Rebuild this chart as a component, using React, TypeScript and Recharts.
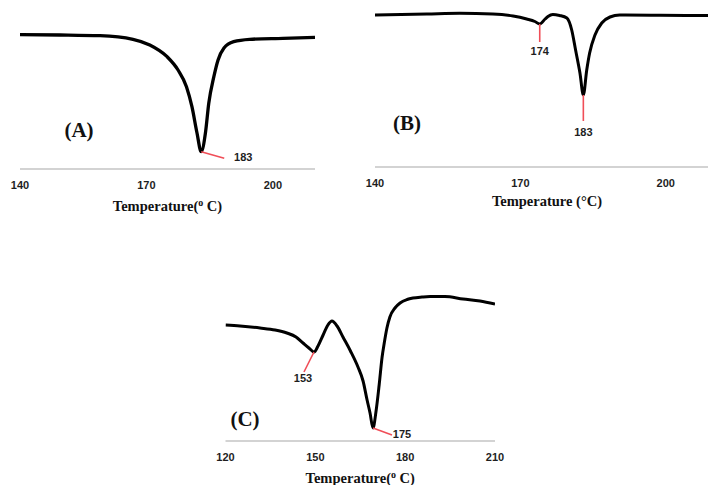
import React from 'react';
import { LineChart, Line, XAxis, YAxis } from 'recharts';

// DSC thermograms: temperature (°C) vs. heat flow (arbitrary units, endo down)
const A_TEMP = [140, 149.5, 159, 166.8, 170.8, 174.9, 177.5, 179.5, 180.8, 182, 183, 184, 184.8, 186, 187, 188.4, 190.7, 194.5, 202.4, 210];
const A_HEAT = [13.43, 13.4, 13.33, 12.97, 12.4, 11.23, 9.9, 8.23, 6.23, 3.6, 1.73, 3.6, 6.6, 9.23, 10.9, 12.1, 12.73, 12.97, 13.07, 13.17];
const A_PEAKS = [183];

const B_TEMP = [140, 150.7, 157.5, 164.3, 168.5, 171.3, 173, 174, 175.1, 175.7, 176.7, 178.1, 179.6, 180.6, 181.4, 182.3, 183, 183.7, 184.3, 185.4, 186.8, 188.5, 190.5, 198.8, 211];
const B_HEAT = [15.2, 15.3, 15.37, 15.3, 15.1, 14.8, 14.55, 14.3, 14.8, 15.05, 15.25, 15.15, 14.9, 13.7, 11.7, 9.4, 7.2, 9.7, 11.4, 13.2, 14.4, 15.0, 15.2, 15.17, 15.15];
const B_PEAKS = [174, 183];

const C_TEMP = [120, 125.4, 132.9, 138.5, 142.9, 146.3, 148.9, 151.1, 153, 154.5, 156.4, 158.2, 159.7, 161.6, 163.8, 166.6, 169.4, 171.3, 172.8, 173.9, 175, 176.1, 177.3, 178.4, 179.2, 180.2, 181.3, 183.2, 185.1, 187.7, 189.9, 193.3, 196.3, 201.8, 208.6, 214.9, 220.5];
const C_HEAT = [11.6, 11.5, 11.3, 11.1, 10.8, 10.4, 9.8, 9.3, 8.9, 9.5, 10.6, 11.6, 12.0, 11.5, 10.4, 9.0, 7.4, 6.0, 4.1, 2.8, 1.3, 2.9, 5.6, 8.4, 9.8, 11.3, 12.4, 13.3, 13.8, 14.15, 14.3, 14.4, 14.45, 14.45, 14.2, 14.0, 13.7];
const C_PEAKS = [153, 175];

// printed scale labels under each trace
const AB_TICKS = [140, 170, 200];
const C_TICKS = [120, 150, 180, 210];

const SERIF = '"Liberation Serif", "Times New Roman", serif';
const SANS = '"Liberation Sans", Arial, sans-serif';

type Leader = { dx: number; dy: number; tx: number; ty: number };

const peakDot = (peaks: number[], leaders: Leader[]) => (props: any) => {
  const { cx, cy, payload, index } = props;
  const i = peaks.indexOf(payload.t);
  if (i < 0) return <g key={`d-${index}`} />;
  const l = leaders[i];
  return (
    <g key={`d-${index}`}>
      <line x1={cx} y1={cy} x2={cx + l.dx} y2={cy + l.dy} stroke="#f04e58" strokeWidth={1.6} />
      <text
        x={cx + l.tx}
        y={cy + l.ty}
        textAnchor="middle"
        dominantBaseline="central"
        fontFamily={SANS}
        fontWeight={700}
        fontSize={11}
        fill="#1e1e1e"
      >
        {String(payload.t)}
      </text>
    </g>
  );
};

const axisTitle = (degree: 'sup' | 'sign', dy: number) => (props: any) => {
  const { x, y, width } = props.viewBox;
  return (
    <text x={x + width / 2} y={y + dy} textAnchor="middle" fontFamily={SERIF} fontWeight={700} fontSize={14.5} fill="#111">
      {degree === 'sup' ? (
        <>
          Temperature(
          <tspan dy={-5} fontSize={10}>o</tspan>
          <tspan dy={5}> C)</tspan>
        </>
      ) : (
        'Temperature (°C)'
      )}
    </text>
  );
};

const scaleTick = (format: (v: number) => string) => (props: any) => {
  const { x, y, payload } = props;
  return (
    <text x={x} y={y + 4} textAnchor="middle" dominantBaseline="central" fontFamily={SANS} fontWeight={700} fontSize={11} fill="#1e1e1e">
      {format(payload.value)}
    </text>
  );
};

interface PanelProps {
  left: number;
  top: number;
  width: number;
  height: number;
  margin: { top: number; right: number; bottom: number; left: number };
  axisHeight: number;
  temps: number[];
  heat: number[];
  peaks: number[];
  leaders: Leader[];
  xDomain: [number, number];
  labelDomain: [number, number];
  labels: number[];
  yMax: number;
  degree: 'sup' | 'sign';
  titleDy: number;
  strokeWidth: number;
}

function DscPanel(p: PanelProps) {
  const data = p.temps.map((t, i) => ({ t, hf: p.heat[i] }));
  // the printed scale labels are spread evenly across the axis span
  const k = (p.xDomain[1] - p.xDomain[0]) / (p.labelDomain[1] - p.labelDomain[0]);
  const toAxis = (v: number) => p.xDomain[0] + (v - p.labelDomain[0]) * k;
  const toLabel = (v: number) => String(Math.round(p.labelDomain[0] + (v - p.xDomain[0]) / k));
  return (
    <div style={{ position: 'absolute', left: p.left, top: p.top }}>
      <LineChart width={p.width} height={p.height} data={data} margin={p.margin}>
        <XAxis
          dataKey="t"
          type="number"
          domain={p.xDomain}
          allowDataOverflow
          ticks={p.labels.map(toAxis)}
          interval={0}
          height={p.axisHeight}
          tickLine={false}
          tickSize={6}
          tickMargin={6}
          axisLine={{ stroke: '#c4c4c4', strokeWidth: 1.5 }}
          tick={scaleTick(toLabel)}
          label={axisTitle(p.degree, p.titleDy)}
        />
        <YAxis type="number" domain={[0, p.yMax]} allowDataOverflow hide />
        <Line
          dataKey="hf"
          type="monotone"
          stroke="#000"
          strokeWidth={p.strokeWidth}
          dot={peakDot(p.peaks, p.leaders)}
          activeDot={false}
          isAnimationActive={false}
        />
      </LineChart>
    </div>
  );
}

const letterStyle = (x: number, y: number): React.CSSProperties => ({
  position: 'absolute',
  left: x,
  top: y,
  transform: 'translate(-50%, -50%)',
  fontFamily: SERIF,
  fontWeight: 700,
  fontSize: 21,
  color: '#111',
  whiteSpace: 'nowrap',
});

export default function App() {
  return (
    <div style={{ position: 'absolute', left: 0, top: 0, width: 708, height: 485, overflow: 'hidden', background: '#fff' }}>
      <DscPanel
        left={0}
        top={0}
        width={330}
        height={230}
        margin={{ top: 20, right: 15, bottom: 11, left: 20 }}
        axisHeight={50}
        temps={A_TEMP}
        heat={A_HEAT}
        peaks={A_PEAKS}
        leaders={[{ dx: 23, dy: 6.5, tx: 42, ty: 5 }]}
        xDomain={[140, 210]}
        labelDomain={[140, 210]}
        labels={AB_TICKS}
        yMax={14.9}
        degree="sup"
        titleDy={42}
        strokeWidth={3.3}
      />
      <DscPanel
        left={360}
        top={0}
        width={370}
        height={230}
        margin={{ top: 5, right: 11, bottom: 13, left: 15 }}
        axisHeight={50}
        temps={B_TEMP}
        heat={B_HEAT}
        peaks={B_PEAKS}
        leaders={[
          { dx: 0, dy: 18, tx: 0, ty: 27 },
          { dx: 0, dy: 26, tx: 0, ty: 37 },
        ]}
        xDomain={[140, 211]}
        labelDomain={[140, 211]}
        labels={AB_TICKS}
        yMax={16.2}
        degree="sign"
        titleDy={39}
        strokeWidth={3}
      />
      <DscPanel
        left={200}
        top={270}
        width={310}
        height={215}
        margin={{ top: 11, right: 15, bottom: 4, left: 25.5 }}
        axisHeight={40}
        temps={C_TEMP}
        heat={C_HEAT}
        peaks={C_PEAKS}
        leaders={[
          { dx: -10, dy: 20, tx: -11, ty: 26 },
          { dx: 19, dy: 7, tx: 29, ty: 6 },
        ]}
        xDomain={[120, 220.5]}
        labelDomain={[120, 210]}
        labels={C_TICKS}
        yMax={16}
        degree="sup"
        titleDy={42}
        strokeWidth={3}
      />
      <div style={letterStyle(79, 130)}>(A)</div>
      <div style={letterStyle(407, 123)}>(B)</div>
      <div style={letterStyle(245, 419)}>(C)</div>
    </div>
  );
}
